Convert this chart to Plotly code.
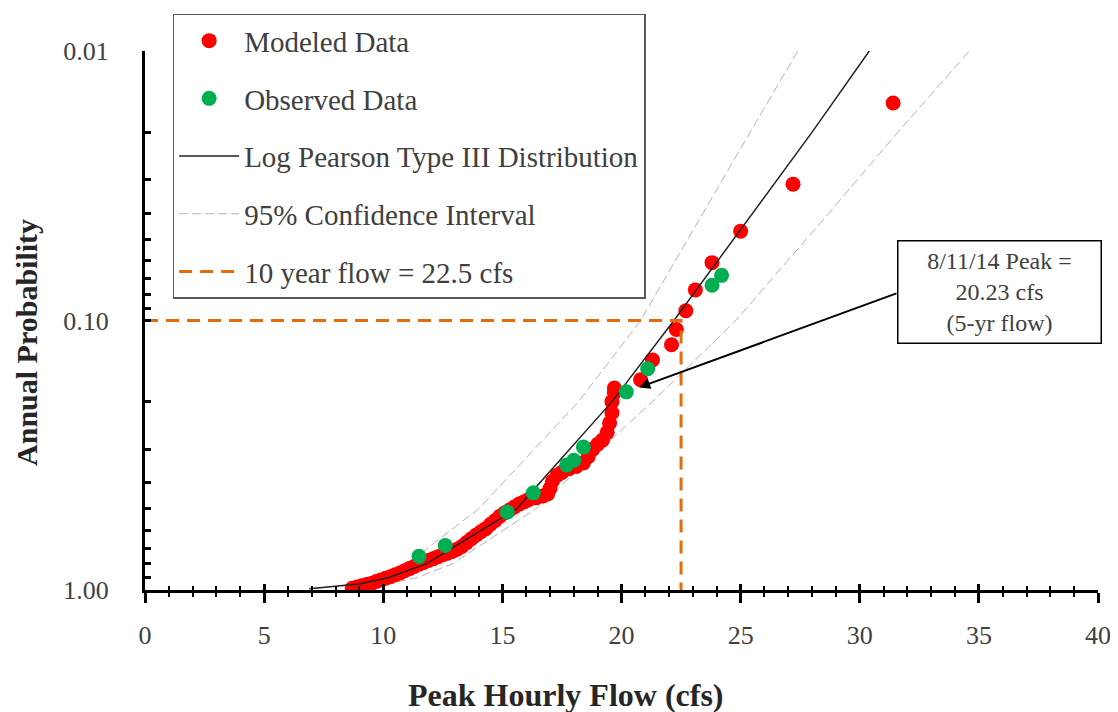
import math
import plotly.graph_objects as go

# modeled annual peaks (cfs) and their plotting probabilities
modeled_flow = [8.7, 8.9, 9.1, 9.3, 9.5, 9.7, 9.9, 10.1, 10.3, 10.5, 10.7, 10.9, 11.1, 11.3, 11.5,
                11.7, 11.9, 12.1, 12.3, 12.5, 12.7, 12.9, 13.1, 13.3, 13.5, 13.7, 13.9, 14.1, 14.3,
                14.5, 14.7, 14.9, 15.1, 15.3, 15.5, 15.7, 15.9, 16.1, 16.4, 16.7, 16.9, 17.0, 17.1,
                17.3, 17.5, 17.8, 18.1, 18.4, 18.6, 18.8, 19.0, 19.2, 19.4, 19.5, 19.6, 19.6, 19.7,
                19.7, 20.8, 21.3, 22.1, 22.3, 22.7, 23.1, 23.8, 25.0, 27.2, 31.4]
modeled_prob = [0.985, 0.975, 0.965, 0.955, 0.945, 0.930, 0.918, 0.905, 0.893, 0.878, 0.865, 0.848,
                0.833, 0.818, 0.803, 0.790, 0.777, 0.765, 0.752, 0.740, 0.730, 0.720, 0.706, 0.690,
                0.667, 0.645, 0.625, 0.608, 0.592, 0.570, 0.552, 0.532, 0.517, 0.505, 0.492, 0.480,
                0.471, 0.462, 0.455, 0.448, 0.440, 0.420, 0.395, 0.375, 0.366, 0.355, 0.348, 0.338,
                0.320, 0.300, 0.288, 0.278, 0.260, 0.240, 0.220, 0.200, 0.185, 0.178, 0.166, 0.140,
                0.123, 0.108, 0.092, 0.077, 0.061, 0.0466, 0.0312, 0.0156]

# observed annual peaks
observed_flow = [11.5, 12.6, 15.2, 16.3, 17.7, 18.0, 18.4, 20.2, 21.1, 23.8, 24.2]
observed_prob = [0.750, 0.684, 0.514, 0.436, 0.344, 0.330, 0.295, 0.184, 0.151, 0.074, 0.068]

# Log Pearson Type III fit and 95% confidence limits
lp3_prob = [0.99, 0.95, 0.9, 0.8, 0.5, 0.2, 0.1, 0.04, 0.02, 0.01]
lp3_flow = [6.9, 9.0, 10.2, 11.8, 15.6, 19.6, 22.2, 25.5, 28.0, 30.4]
ci_upper_flow = [7.0, 8.7, 9.6, 11.0, 14.0, 18.2, 20.8, 23.4, 25.4, 27.4]
ci_lower_flow = [8.4, 10.2, 11.4, 12.9, 16.4, 21.3, 24.8, 28.7, 31.6, 34.6]

# 10 year flow guide
ten_year_x = [0, 22.5, 22.5]
ten_year_y = [0.1, 0.1, 1.0]

# 8/11/14 event (observed point the callout points at)
peak_flow = 20.23
peak_prob = 0.184

y_tickvals = [0.01, 0.02, 0.03, 0.04, 0.05, 0.06, 0.07, 0.08, 0.09,
              0.1, 0.2, 0.3, 0.4, 0.5, 0.6, 0.7, 0.8, 0.9, 1.0]
y_ticktext = ["0.01", "", "", "", "", "", "", "", "",
              "0.10", "", "", "", "", "", "", "", "", "1.00"]

serif = "Liberation Serif, DejaVu Serif, serif"
txt = "#404040"

fig = go.Figure()

# confidence interval (only one entry shown in legend)
fig.add_trace(go.Scatter(x=ci_upper_flow, y=lp3_prob, mode="lines", name="95% Confidence Interval",
                         line=dict(color="#b3b3b3", width=1, dash="9px,4px"),
                         legendgroup="ci", legendrank=4))
fig.add_trace(go.Scatter(x=ci_lower_flow, y=lp3_prob, mode="lines", showlegend=False,
                         line=dict(color="#b3b3b3", width=1, dash="9px,4px"), legendgroup="ci"))

# 10 year flow lines (on overlay axis so it also carries the inner ticks)
fig.add_trace(go.Scatter(x=ten_year_x, y=ten_year_y, mode="lines", xaxis="x2",
                         name="10 year flow = 22.5 cfs",
                         line=dict(color="#e46c0a", width=3, dash="13px,8px"),
                         legendgroup="ten", legendrank=5))

fig.add_trace(go.Scatter(x=modeled_flow, y=modeled_prob, mode="markers", name="Modeled Data",
                         marker=dict(color="#ff0000", size=15),
                         legendgroup="mod", legendrank=1))

fig.add_trace(go.Scatter(x=lp3_flow, y=lp3_prob, mode="lines", name="Log Pearson Type III Distribution",
                         line=dict(color="#222222", width=1.5),
                         legendgroup="lp3", legendrank=3))

fig.add_trace(go.Scatter(x=observed_flow, y=observed_prob, mode="markers", name="Observed Data",
                         marker=dict(color="#00b050", size=15),
                         legendgroup="obs", legendrank=2))

# callout box and its arrow (arrow leaves from the left edge of the box)
fig.add_annotation(
    x=0.897, y=0.552, xref="paper", yref="paper", showarrow=False,
    text="8/11/14 Peak =<br>20.23 cfs<br>(5-yr flow)",
    font=dict(family=serif, size=24, color=txt), xanchor="center", yanchor="middle",
    align="center", bordercolor="#000000", borderwidth=1.5, borderpad=4,
    bgcolor="white", width=194, height=93,
)
fig.add_annotation(
    x=peak_flow, y=math.log10(peak_prob), xref="x", yref="y", text="",
    showarrow=True, arrowhead=2, arrowsize=1.1, arrowwidth=2, arrowcolor="#000000",
    ax=271, ay=-99, standoff=13,
)

# axis titles placed as in the original chart
fig.add_annotation(x=0.442, y=-0.195, xref="paper", yref="paper", showarrow=False,
                   text="<b>Peak Hourly Flow (cfs)</b>", xanchor="center", yanchor="middle",
                   font=dict(family=serif, size=32, color="#262626"))
fig.add_annotation(x=-0.125, y=0.46, xref="paper", yref="paper", showarrow=False,
                   text="<b>Annual Probability</b>", textangle=-90, xanchor="center", yanchor="middle",
                   font=dict(family=serif, size=30, color="#262626"))

# page body adds an 8px offset, so the figure is sized to the remaining view
fig.update_layout(
    width=1110, height=704,
    margin=dict(l=137, r=20, t=43, b=122, autoexpand=False),
    paper_bgcolor="white", plot_bgcolor="white",
    font=dict(family=serif, color=txt),
    legend=dict(
        x=0.029, y=1.069, xanchor="left", yanchor="top",
        bgcolor="white", bordercolor="#595959", borderwidth=1.5,
        font=dict(family=serif, size=29, color=txt),
        tracegroupgap=17, itemwidth=60,
    ),
    xaxis=dict(
        range=[0, 40], tick0=0, dtick=5,
        ticks="outside", ticklen=10, tickwidth=2.5, tickcolor="black",
        minor=dict(ticks="outside", dtick=1, ticklen=4, tickwidth=2, tickcolor="black"),
        showline=True, linewidth=3, linecolor="black",
        showgrid=False, zeroline=False, automargin=False,
        tickfont=dict(family=serif, size=26, color=txt),
        ticklabelstandoff=10,
    ),
    xaxis2=dict(
        overlaying="x", matches="x", anchor="y", side="bottom",
        range=[0, 40], tick0=0, dtick=5,
        ticks="inside", ticklen=6, tickwidth=2.5, tickcolor="black",
        minor=dict(ticks="inside", dtick=1, ticklen=4, tickwidth=2, tickcolor="black"),
        showticklabels=False, showline=False, showgrid=False, zeroline=False,
    ),
    yaxis=dict(
        type="log", range=[0, -2],
        tickvals=y_tickvals, ticktext=y_ticktext,
        ticks="inside", ticklen=6, tickwidth=2.5, tickcolor="black",
        showline=True, linewidth=3, linecolor="black",
        showgrid=False, zeroline=False, automargin=False,
        tickfont=dict(family=serif, size=26, color=txt),
        ticklabelstandoff=28,
    ),
)

fig.write_html("out.html")
